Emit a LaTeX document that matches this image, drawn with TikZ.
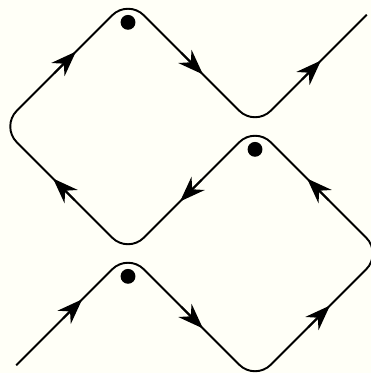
\documentclass[tikz,border=0pt]{standalone}
\usetikzlibrary{arrows.meta,calc}
\definecolor{paper}{RGB}{255,255,247}

\begin{document}
\begin{tikzpicture}[
  x=3cm, y=3cm,
  strand/.style={line width=1.3pt, rounded corners=15pt},
  tip/.style={-{Stealth[length=6mm, width=4.4mm]}, line width=1.3pt},
  dot/.style={circle, fill, inner sep=0pt, minimum size=10pt}
]
\fill[paper] (-1.008,-0.941) rectangle (1.913,1.996);
\useasboundingbox (-1.008,-0.941) rectangle (1.913,1.996);
\coordinate (s) at (-0.88,-0.88);
\coordinate (L) at (0,0);
\coordinate (B) at (1,-1);
\coordinate (E) at (2,0);
\coordinate (R) at (1,1);
\coordinate (W) at (-1,1);
\coordinate (T) at (0,2);
\coordinate (e) at (1.88,1.88);
\draw[strand] (s) -- (L) -- (B) -- (E) -- (R) -- (L) -- (W) -- (T) -- (R) -- (e);
\foreach \a/\b in {s/L, L/B, B/E, E/R, R/L, L/W, W/T, T/R, R/e}
  \draw[tip] ($(\a)!0.42!(\b)$) -- ($(\a)!0.59!(\b)$);
\foreach \c in {T, L, R}
  \node[dot] (dot\c) at ($(\c)+(0,-0.18)$) {};
\end{tikzpicture}
\end{document}
